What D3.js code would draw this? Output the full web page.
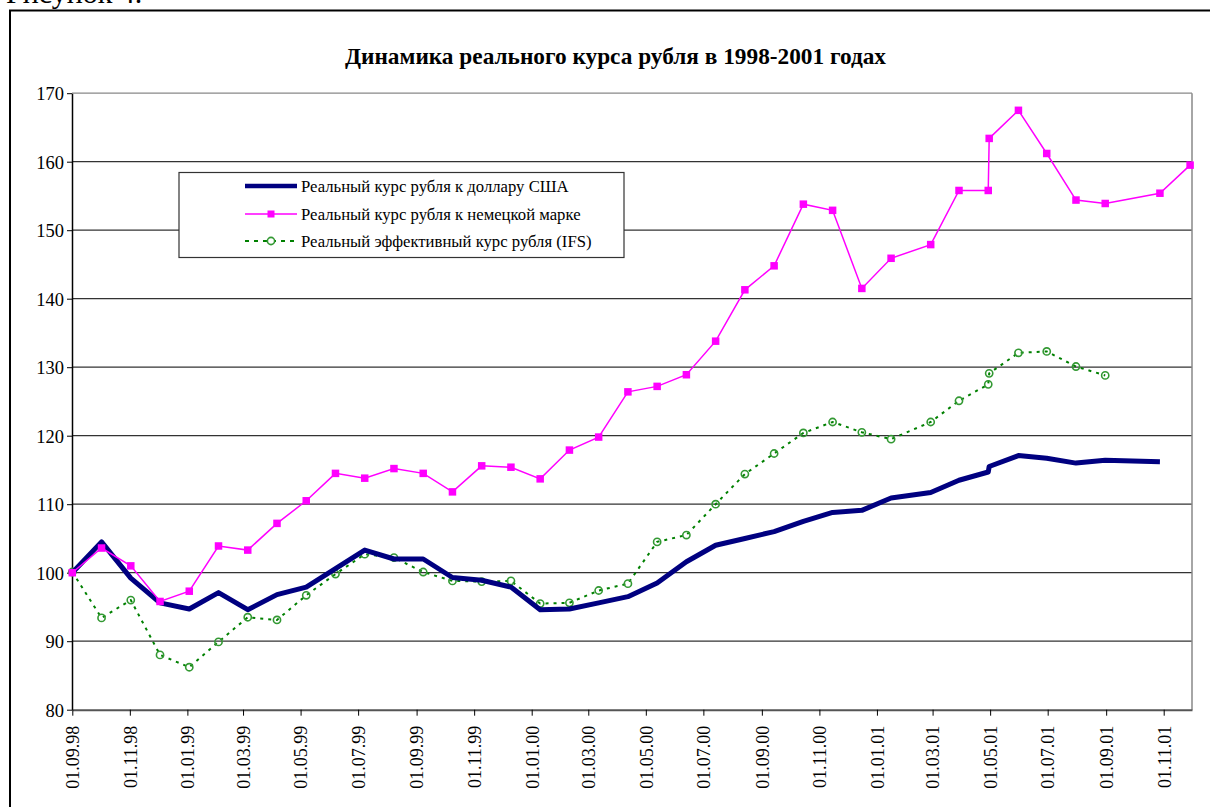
<!DOCTYPE html>
<html>
<head>
<meta charset="utf-8">
<script src="https://cdn.jsdelivr.net/npm/d3@7"></script>
<style>
  body { margin: 0; background: #fff; }
</style>
</head>
<body>
<div id="chart"></div>
<script>
var dates = ["01.09.98","02.10.98","02.11.98","03.12.98","03.01.99","03.02.99","06.03.99","06.04.99",
  "07.05.99","07.06.99","08.07.99","08.08.99","08.09.99","09.10.99","09.11.99","10.12.99",
  "10.01.00","10.02.00","12.03.00","12.04.00","13.05.00","13.06.00","14.07.00","14.08.00",
  "14.09.00","15.10.00","15.11.00","16.12.00","16.01.01","27.02.01","29.03.01","29.04.01",
  "30.04.01","31.05.01","30.06.01","31.07.01","31.08.01","28.10.01","29.11.01"];

var usdRate = [100,104.5,99.2,95.6,94.7,97.1,94.6,96.8,97.9,100.6,103.3,102.0,102.0,99.3,98.9,97.9,
  94.6,94.7,95.6,96.5,98.5,101.6,104.0,105.0,106.0,107.5,108.8,109.1,110.9,111.7,113.5,114.7,
  115.5,117.1,116.7,116.0,116.4,116.2,null];

var dmRate = [100,103.6,101.0,95.8,97.3,103.9,103.3,107.2,110.5,114.5,113.8,115.2,114.5,111.8,115.6,115.4,
  113.7,117.9,119.8,126.4,127.2,128.9,133.8,141.3,144.8,153.8,152.9,141.5,145.9,147.9,155.8,155.8,
  163.4,167.5,161.2,154.4,153.9,155.4,159.5];

var effRate = [100.1,93.4,96.0,88.0,86.2,89.9,93.5,93.1,96.7,99.8,102.7,102.2,100.1,98.8,98.7,98.8,
  95.5,95.6,97.4,98.4,104.5,105.5,110.0,114.4,117.4,120.4,122.0,120.5,119.5,122.0,125.1,127.5,
  129.1,132.1,132.3,130.1,128.8,null,null];

var xTicks = ["01.09.98","01.11.98","01.01.99","01.03.99","01.05.99","01.07.99","01.09.99","01.11.99",
  "01.01.00","01.03.00","01.05.00","01.07.00","01.09.00","01.11.00","01.01.01","01.03.01",
  "01.05.01","01.07.01","01.09.01","01.11.01"];
var yTicks = [80,90,100,110,120,130,140,150,160,170];

var seriesNames = ["Реальный курс рубля к доллару США",
  "Реальный курс рубля к немецкой марке",
  "Реальный эффективный курс рубля (IFS)"];

var W = 1210, H = 807;
var FONT = "'Liberation Serif'";
var parse = d3.timeParse("%d.%m.%y");

var svg = d3.select("#chart").append("svg")
  .attr("width", W).attr("height", H)
  .attr("font-family", FONT);

// caption above the frame (cut off by the page top)
svg.append("text").attr("x", 6).attr("y", 2.5)
  .attr("font-family", FONT).attr("font-size", 30)
  .text("Рисунок 4.");

// outer frame
svg.append("rect").attr("x", 10).attr("y", 10.5)
  .attr("width", 1215).attr("height", 820)
  .attr("fill", "none").attr("stroke", "#000").attr("stroke-width", 2);

svg.append("text").attr("x", 615.5).attr("y", 64)
  .attr("text-anchor", "middle")
  .attr("font-family", FONT).attr("font-size", 23.3).attr("font-weight", "bold")
  .text("Динамика реального курса рубля в 1998-2001 годах");

var x = d3.scaleTime()
  .domain([parse("01.09.98"), parse("01.12.01")])
  .range([72.3, 1192]);
var y = d3.scaleLinear().domain([80, 170]).range([709.7, 93.2]);

// grid
svg.append("g").selectAll("line").data(yTicks.slice(1)).enter().append("line")
  .attr("x1", 72).attr("x2", 1192)
  .attr("y1", function(d){ return y(d); }).attr("y2", function(d){ return y(d); })
  .attr("stroke", function(d){ return d == 170 ? "#888" : "#333"; })
  .attr("stroke-width", 1.3);
// right border of plot
svg.append("line").attr("x1", 1192).attr("x2", 1192).attr("y1", y(170)).attr("y2", y(80))
  .attr("stroke", "#888").attr("stroke-width", 1.5);

// y axis
var yAxis = svg.append("g").attr("transform", "translate(72,0)")
  .call(d3.axisLeft(y).tickValues(yTicks).tickSize(5).tickSizeOuter(0))
  .attr("font-family", FONT).attr("font-size", 18.5);
yAxis.select(".domain").attr("stroke", "#000").attr("stroke-width", 1.5);
yAxis.selectAll(".tick line").attr("stroke", "#000");
yAxis.selectAll("text").attr("fill", "#000").attr("x", -8).attr("dy", "0.35em");

// x axis
var xAxis = svg.append("g").attr("transform", "translate(0,709.7)")
  .call(d3.axisBottom(x).tickValues(xTicks.map(parse))
    .tickFormat(d3.timeFormat("%d.%m.%y")).tickSize(6).tickSizeOuter(0))
  .attr("font-family", FONT).attr("font-size", 18);
xAxis.select(".domain").attr("stroke", "#555").attr("stroke-width", 2);
xAxis.selectAll(".tick line").attr("stroke", "#000");
xAxis.selectAll("text")
  .attr("fill", "#000")
  .attr("text-anchor", "end")
  .attr("transform", "rotate(-90)")
  .attr("x", -16).attr("y", 0).attr("dy", "0.35em");

function rows(vals) {
  return dates.map(function(d, i){ return {date: parse(d), v: vals[i]}; })
    .filter(function(r){ return r.v != null; });
}
var line = d3.line().x(function(d){ return x(d.date); }).y(function(d){ return y(d.v); });

var effRows = rows(effRate), usdRows = rows(usdRate), dmRows = rows(dmRate);

// effective rate: green dotted with hollow circles
svg.append("path").datum(effRows).attr("d", line)
  .attr("fill", "none").attr("stroke", "#008000").attr("stroke-width", 2)
  .attr("stroke-dasharray", "3,5");
svg.append("g").selectAll("circle").data(effRows).enter().append("circle")
  .attr("cx", function(d){ return x(d.date); }).attr("cy", function(d){ return y(d.v); })
  .attr("r", 3.6).attr("fill", "none").attr("stroke", "#339933").attr("stroke-width", 1.6);

// USD: thick navy
svg.append("path").datum(usdRows).attr("d", line)
  .attr("fill", "none").attr("stroke", "#000080").attr("stroke-width", 5)
  .attr("stroke-linejoin", "round");

// DM: magenta with squares
svg.append("path").datum(dmRows).attr("d", line)
  .attr("fill", "none").attr("stroke", "#ff00ff").attr("stroke-width", 1.5);
svg.append("g").selectAll("rect").data(dmRows).enter().append("rect")
  .attr("x", function(d){ return x(d.date) - 3.75; }).attr("y", function(d){ return y(d.v) - 3.75; })
  .attr("width", 7.5).attr("height", 7.5).attr("fill", "#ff00ff");

// legend
var lg = svg.append("g");
lg.append("rect").attr("x", 179).attr("y", 172.5).attr("width", 445).attr("height", 85)
  .attr("fill", "#fff").attr("stroke", "#333").attr("stroke-width", 1.2);
var ly = [186, 214, 241];
lg.append("line").attr("x1", 245).attr("x2", 297).attr("y1", ly[0]).attr("y2", ly[0])
  .attr("stroke", "#000080").attr("stroke-width", 4.5);
lg.append("line").attr("x1", 245).attr("x2", 297).attr("y1", ly[1]).attr("y2", ly[1])
  .attr("stroke", "#ff00ff").attr("stroke-width", 1.5);
lg.append("rect").attr("x", 267.5).attr("y", ly[1] - 3.5).attr("width", 7).attr("height", 7)
  .attr("fill", "#ff00ff");
lg.append("line").attr("x1", 245).attr("x2", 297).attr("y1", ly[2]).attr("y2", ly[2])
  .attr("stroke", "#008000").attr("stroke-width", 2).attr("stroke-dasharray", "4,5");
lg.append("circle").attr("cx", 271).attr("cy", ly[2]).attr("r", 3.6)
  .attr("fill", "#fff").attr("stroke", "#339933").attr("stroke-width", 1.6);
lg.selectAll("text.lbl").data(seriesNames).enter().append("text")
  .attr("x", 301).attr("y", function(d, i){ return ly[i]; }).attr("dy", "0.35em")
  .attr("font-family", FONT).attr("font-size", 16.7)
  .text(function(d){ return d; });
</script>
</body>
</html>
